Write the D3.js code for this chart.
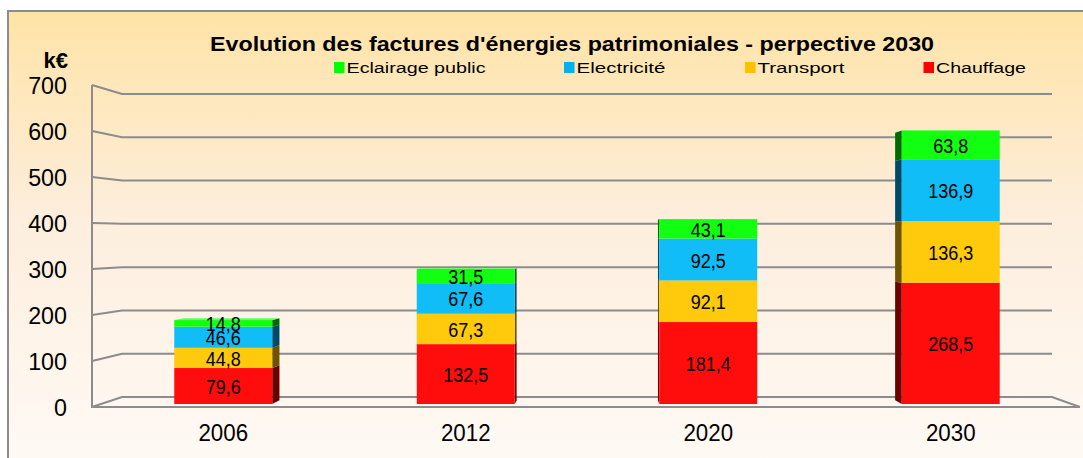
<!DOCTYPE html>
<html><head><meta charset="utf-8">
<script src="https://cdn.jsdelivr.net/npm/d3@7"></script>
<style>html,body{margin:0;padding:0;background:#fff;}svg{display:block;}</style>
</head><body>
<svg id="c" width="1083" height="458"></svg>
<script>
const years = ["2006","2012","2020","2030"];
const seriesNames = ["Chauffage","Transport","Electricité","Eclairage public"];
const chauffage = [79.6,132.5,181.4,268.5];
const transport = [44.8,67.3,92.1,136.3];
const electricite = [46.6,67.6,92.5,136.9];
const eclairage = [14.8,31.5,43.1,63.8];
const yTicks = [0,100,200,300,400,500,600,700];
const legendOrder = ["Eclairage public","Electricité","Transport","Chauffage"];
const titleText = "Evolution des factures d'énergies patrimoniales - perpective 2030";

const colors = {"Chauffage":"#ff0d0d","Transport":"#ffc90c","Electricité":"#10bdf6","Eclairage public":"#12ff12"};
const sideColors = {"Chauffage":"#6a0000","Transport":"#6e5400","Electricité":"#004a66","Eclairage public":"#006a00"};
const topColors = {"Chauffage":"#ff5050","Transport":"#ffdc50","Electricité":"#60d6ff","Eclairage public":"#60ff60"};
const legendColors = {"Chauffage":"#ff0000","Transport":"#ffc000","Electricité":"#00b0f0","Eclairage public":"#00ff00"};

const svg = d3.select("#c");
const font = "'Liberation Sans', Arial, sans-serif";

// background
const defs = svg.append("defs");
const g = defs.append("linearGradient").attr("id","bg").attr("x1",0).attr("y1",0).attr("x2",0).attr("y2",1);
g.append("stop").attr("offset","0%").attr("stop-color","#ffe3a6");
g.append("stop").attr("offset","45%").attr("stop-color","#fdeedd");
g.append("stop").attr("offset","100%").attr("stop-color","#fffaf6");
svg.append("rect").attr("x",8).attr("y",11).attr("width",1090).attr("height",460)
  .attr("fill","url(#bg)").attr("stroke","#8c8c8c").attr("stroke-width",2);

// scales
const yFront = d3.scaleLinear().domain([0,700]).range([407,85]);
const yBack = d3.scaleLinear().domain([0,700]).range([397,94]);
const yBar = d3.scaleLinear().domain([0,700]).range([404,404-316.3]);
const x = d3.scaleBand().domain(years).range([102,1072]).paddingInner(0.596).paddingOuter(0.298);
const xLeftFront = 92, xLeftBack = 122, xRightBack = 1052, xRightFront = 1080;
const vp = [600,237], k = 0.022;
const back = (px,py) => [px + (vp[0]-px)*k, py + (vp[1]-py)*k];

// grid
const grid = svg.append("g").attr("stroke","#8c8c8c").attr("stroke-width",2).attr("fill","none");
yTicks.forEach(v => {
  grid.append("path").attr("d", `M${xLeftFront},${yFront(v)}L${xLeftBack},${yBack(v)}L${xRightBack},${yBack(v)}` + (v===0 ? `L${xRightFront},${yFront(0)}` : ""));
});
grid.append("path").attr("d",`M${xLeftFront},${yFront(700)}L${xLeftFront},${yFront(0)}L${xRightFront},${yFront(0)}`);

function squeeze(sel, f){ sel.each(function(){ const w=this.getComputedTextLength(); d3.select(this).attr("textLength",w*f).attr("lengthAdjust","spacingAndGlyphs"); }); }

// axis labels
const axis = d3.axisLeft(yFront).tickValues(yTicks).tickSize(0).tickPadding(0);
const ag = svg.append("g").attr("transform","translate(67,1)").call(axis);
ag.select(".domain").remove();
ag.selectAll("text").attr("font-family",font).attr("font-size",24).attr("fill","#000");
squeeze(ag.selectAll("text"),0.97);

svg.append("text").attr("x",68).attr("y",60).attr("text-anchor","end").attr("dominant-baseline","central")
  .attr("font-family",font).attr("font-weight","bold").attr("font-size",22).text("k€");

// category labels
const xa = d3.axisBottom(x).tickSize(0).tickPadding(0);
const xg = svg.append("g").attr("transform","translate(0,424)").call(xa);
xg.select(".domain").remove();
xg.selectAll("text").attr("font-family",font).attr("font-size",24).attr("fill","#000");
squeeze(xg.selectAll("text"),0.93);

// stacked data
const data = years.map((y,i)=>({year:y,"Chauffage":chauffage[i],"Transport":transport[i],"Electricité":electricite[i],"Eclairage public":eclairage[i]}));
const stack = d3.stack().keys(seriesNames)(data);

const bars = svg.append("g");
stack.forEach(layer => {
  const key = layer.key;
  layer.forEach((d,i) => {
    const yr = years[i];
    const x0 = x(yr), x1 = x(yr)+x.bandwidth();
    const yt = yBar(d[1]), yb = yBar(d[0]);
    const cx = x0 + x.bandwidth()/2;
    const ex = cx < vp[0] ? x1 : x0;
    const bt = back(ex,yt), bb = back(ex,yb);
    bars.append("path").attr("d",`M${ex},${yt}L${bt[0]},${bt[1]}L${bb[0]},${bb[1]}L${ex},${yb}Z`).attr("fill",sideColors[key]);
    if (key === seriesNames[seriesNames.length-1] && yt > vp[1]) {
      const a = back(x0,yt), b = back(x1,yt);
      bars.append("path").attr("d",`M${x0},${yt}L${a[0]},${a[1]}L${b[0]},${b[1]}L${x1},${yt}Z`).attr("fill",topColors[key]);
    }
    bars.append("rect").attr("x",x0).attr("y",yt).attr("width",x.bandwidth()).attr("height",yb-yt).attr("fill",colors[key]);
  });
});
const labels = bars.append("g");
stack.forEach(layer => {
  layer.forEach((d,i) => {
    const yr = years[i];
    const cx = x(yr)+x.bandwidth()/2;
    const cy = (yBar(d[0])+yBar(d[1]))/2;
    labels.append("text").attr("x",cx).attr("y",cy+1).attr("text-anchor","middle").attr("dominant-baseline","central")
      .attr("font-family",font).attr("font-size",20).attr("fill","#000")
      .text(d3.format(".1f")(d[1]-d[0]).replace(".",","));
  });
});
squeeze(labels.selectAll("text"),0.9);

// title
svg.append("text").attr("x",210).attr("y",51).attr("font-family",font).attr("font-weight","bold").attr("font-size",20.5)
  .attr("textLength",724).attr("lengthAdjust","spacingAndGlyphs").text(titleText);

// legend
const legX = [334,564,745,923.5];
const legW = [139,89,87,90];
legendOrder.forEach((name,i)=>{
  svg.append("rect").attr("x",legX[i]).attr("y",62).attr("width",10.5).attr("height",11).attr("fill",legendColors[name]);
  svg.append("text").attr("x",legX[i]+12.5).attr("y",73).attr("font-family",font).attr("font-size",15.5)
    .attr("textLength",legW[i]).attr("lengthAdjust","spacingAndGlyphs").text(name);
});
</script>
</body></html>
